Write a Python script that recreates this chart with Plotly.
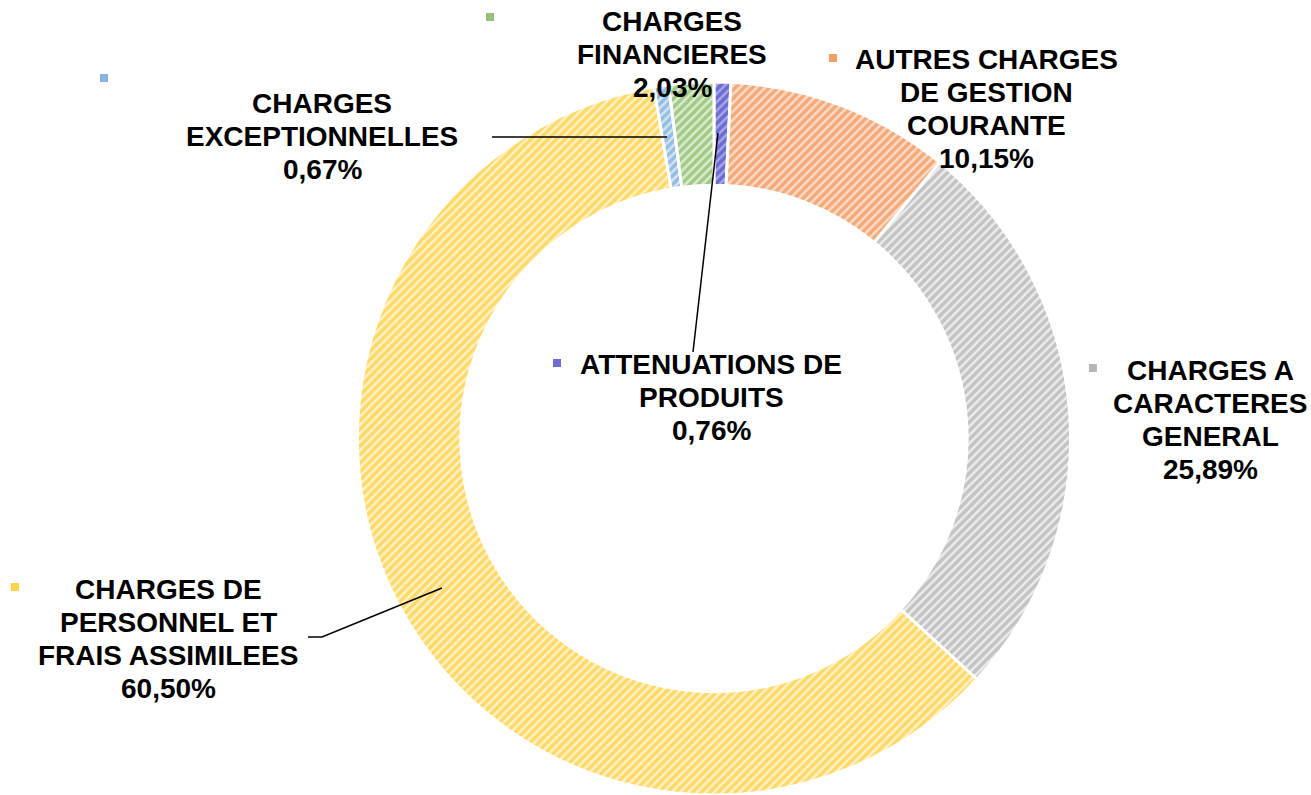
import plotly.graph_objects as go

W, H = 1311, 795

categories = [
    "ATTENUATIONS DE PRODUITS",
    "AUTRES CHARGES DE GESTION COURANTE",
    "CHARGES A CARACTERES GENERAL",
    "CHARGES DE PERSONNEL ET FRAIS ASSIMILEES",
    "CHARGES EXCEPTIONNELLES",
    "CHARGES FINANCIERES",
]
values = [0.76, 10.15, 25.89, 60.50, 0.67, 2.03]
label_lines = [
    ["ATTENUATIONS DE", "PRODUITS"],
    ["AUTRES CHARGES", "DE GESTION", "COURANTE"],
    ["CHARGES A", "CARACTERES", "GENERAL"],
    ["CHARGES DE", "PERSONNEL ET", "FRAIS ASSIMILEES"],
    ["CHARGES", "EXCEPTIONNELLES"],
    ["CHARGES", "FINANCIERES"],
]
fg_colors = ["#2E2EC0", "#EE7527", "#999999", "#FFC000", "#5594D2", "#66A83C"]
bg_colors = ["#A8A8E6", "#FBDDCB", "#EDEDED", "#FFF2CC", "#D5E5F4", "#DCEDD1"]

# label block centres (pixels) and marker-square positions (pixels)
label_pos = [(711, 397), (986, 109), (1210, 420), (168, 639), (322, 137), (672, 55)]
square_pos = [(557, 363), (833, 58), (1093, 368), (15, 587), (104, 78), (490, 17)]
LINE_H = 33

# leader lines (pixel paths)
leaders = [
    [(718, 133), (693, 352)],
    [(492, 137), (667, 137)],
    [(308, 637), (322, 637), (442, 588)],
]


def px(x, y):
    return x / W, 1 - y / H


fig = go.Figure()
fig.add_trace(go.Pie(
    labels=categories,
    values=values,
    sort=False,
    direction="clockwise",
    rotation=0,
    hole=0.71,
    textinfo="none",
    showlegend=False,
    marker=dict(
        colors=bg_colors,
        line=dict(color="white", width=3),
        pattern=dict(shape="/", fgcolor=fg_colors, bgcolor=bg_colors,
                     size=6, solidity=0.6, fillmode="overlay"),
    ),
    domain=dict(x=[0.0892, 1.0], y=[0.0, 0.897]),
))

annotations = []
shapes = []
for cat, v, lines, (lx, ly), (sx, sy), fg, bg in zip(
        categories, values, label_lines, label_pos, square_pos, fg_colors, bg_colors):
    pct = f"{v:.2f}".replace(".", ",") + "%"
    all_lines = lines + [pct]
    n = len(all_lines)
    for i, t in enumerate(all_lines):
        yy = ly + (i - (n - 1) / 2) * LINE_H
        ax, ay = px(lx, yy)
        annotations.append(dict(
            x=ax, y=ay, xref="paper", yref="paper", text=t, showarrow=False,
            xanchor="center", yanchor="middle", align="center",
            font=dict(family="Liberation Sans, Arial, sans-serif", size=28,
                      color="black", weight="bold"),
        ))
    x0, y0 = px(sx - 4, sy - 4)
    x1, y1 = px(sx + 4, sy + 4)
    shapes.append(dict(type="rect", xref="paper", yref="paper",
                       x0=x0, y0=y0, x1=x1, y1=y1,
                       fillcolor=fg, opacity=0.7, line=dict(width=0)))

for path in leaders:
    pts = [px(x, y) for x, y in path]
    d = "M " + " L ".join(f"{x},{y}" for x, y in pts)
    shapes.append(dict(type="path", xref="paper", yref="paper", path=d,
                       line=dict(color="black", width=1.5)))

fig.update_layout(
    width=W, height=H,
    margin=dict(l=0, r=0, t=0, b=0),
    paper_bgcolor="white", plot_bgcolor="white",
    annotations=annotations,
    shapes=shapes,
)

fig.write_html("out.html")
